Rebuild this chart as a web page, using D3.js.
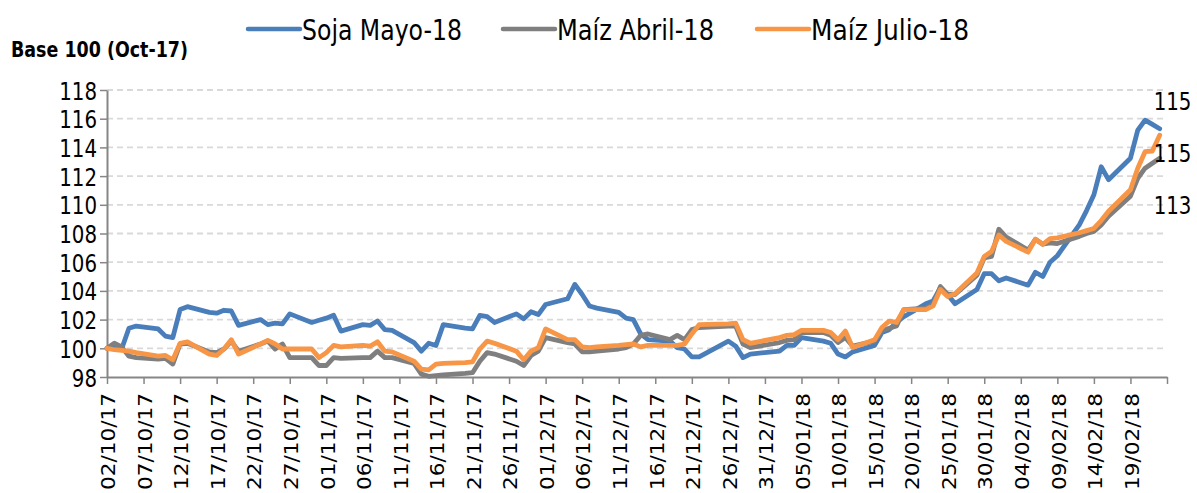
<!DOCTYPE html>
<html>
<head>
<meta charset="utf-8">
<script src="https://cdn.jsdelivr.net/npm/d3@7"></script>
<style>
  body { margin: 0; background: #fff; }
  text { font-family: "DejaVu Sans Condensed", "DejaVu Sans", sans-serif; fill: #000; }
</style>
</head>
<body>
<div id="chart"></div>
<script>
// trading days (dd/mm/yy)
const dates = [
  "02/10/17","03/10/17","04/10/17","05/10/17","06/10/17",
  "09/10/17","10/10/17","11/10/17","12/10/17","13/10/17",
  "16/10/17","17/10/17","18/10/17","19/10/17","20/10/17",
  "23/10/17","24/10/17","25/10/17","26/10/17","27/10/17",
  "30/10/17","31/10/17","01/11/17","02/11/17","03/11/17",
  "06/11/17","07/11/17","08/11/17","09/11/17","10/11/17",
  "13/11/17","14/11/17","15/11/17","16/11/17","17/11/17",
  "20/11/17","21/11/17","22/11/17","23/11/17","24/11/17",
  "27/11/17","28/11/17","29/11/17","30/11/17","01/12/17",
  "04/12/17","05/12/17","06/12/17","07/12/17","08/12/17",
  "11/12/17","12/12/17","13/12/17","14/12/17","15/12/17",
  "18/12/17","19/12/17","20/12/17","21/12/17","22/12/17",
  "26/12/17","27/12/17","28/12/17","29/12/17",
  "02/01/18","03/01/18","04/01/18","05/01/18",
  "08/01/18","09/01/18","10/01/18","11/01/18","12/01/18",
  "15/01/18","16/01/18","17/01/18","18/01/18","19/01/18",
  "22/01/18","23/01/18","24/01/18","25/01/18","26/01/18",
  "29/01/18","30/01/18","31/01/18","01/02/18","02/02/18",
  "05/02/18","06/02/18","07/02/18","08/02/18","09/02/18",
  "12/02/18","13/02/18","14/02/18","15/02/18","16/02/18",
  "19/02/18","20/02/18","21/02/18","22/02/18","23/02/18"
];

const sojaMayo = [
  100.0, 100.0, 99.95, 101.4, 101.55,
  101.35, 100.85, 100.75, 102.7, 102.9,
  102.5, 102.45, 102.65, 102.6, 101.6,
  102.0, 101.65, 101.75, 101.7, 102.4,
  101.8, 101.95, 102.1, 102.3, 101.2,
  101.65, 101.6, 101.9, 101.3, 101.25,
  100.4, 99.8, 100.35, 100.2, 101.65,
  101.4, 101.35, 102.3, 102.2, 101.8,
  102.4, 102.05, 102.55, 102.35, 103.05,
  103.45, 104.45, 103.75, 102.95, 102.8,
  102.5, 102.1, 102.0, 101.0, 100.6,
  100.5, 100.05, 99.95, 99.4, 99.4,
  100.5, 100.15, 99.35, 99.6,
  99.8, 100.2, 100.2, 100.75,
  100.5, 100.35, 99.6, 99.4, 99.75,
  100.2, 101.1, 101.3, 101.8, 102.2,
  103.1, 103.3, 104.2, 103.75, 103.1,
  104.1, 105.2, 105.2, 104.7, 104.9,
  104.4, 105.3, 105.0, 106.0, 106.45,
  108.6, 109.6, 110.7, 112.65, 111.75,
  113.25, 115.2, 115.9, 115.6, 115.3
];

const maizAbril = [
  100.0, 100.35, 100.1, 99.45, 99.35,
  99.25, 99.3, 98.9, 100.3, 100.35,
  99.75, 99.7, 99.95, 100.5, 99.8,
  100.3, 100.5, 99.95, 100.3, 99.35,
  99.35, 98.8, 98.8, 99.35, 99.3,
  99.35, 99.35, 99.8, 99.35, 99.35,
  98.95, 98.2, 98.05, 98.1, 98.15,
  98.25, 98.3, 99.1, 99.7, 99.6,
  99.1, 98.8, 99.5, 99.8, 100.75,
  100.4, 100.3, 99.75, 99.75, 99.8,
  99.95, 100.05, 100.3, 100.9, 101.0,
  100.6, 100.9, 100.6, 101.3, 101.45,
  101.55, 101.55, 100.3, 100.05,
  100.4, 100.55, 100.6, 101.1,
  101.1, 100.9, 100.4, 100.75, 100.15,
  100.5, 101.25, 101.4, 101.55, 102.7,
  102.8, 103.05, 104.3, 103.75, 103.75,
  105.1, 106.3, 106.4, 108.3, 107.75,
  106.85, 107.6, 107.25, 107.35, 107.3,
  107.8, 108.0, 108.15, 108.6, 109.2,
  110.6, 111.85, 112.55, 112.9, 113.25
];

const maizJulio = [
  100.0, 99.9, 99.85, 99.8, 99.7,
  99.45, 99.5, 99.2, 100.35, 100.45,
  99.6, 99.5, 99.95, 100.6, 99.6,
  100.3, 100.55, 100.3, 99.95, 99.95,
  99.95, 99.35, 99.7, 100.2, 100.1,
  100.2, 100.15, 100.45, 99.8, 99.75,
  99.1, 98.55, 98.5, 98.9, 98.95,
  99.0, 99.05, 99.95, 100.5, 100.35,
  99.8, 99.2, 99.8, 100.05, 101.35,
  100.6, 100.6, 100.1, 100.05, 100.1,
  100.2, 100.25, 100.3, 100.1, 100.2,
  100.2, 100.2, 100.3, 101.0, 101.65,
  101.7, 101.75, 100.6, 100.35,
  100.75, 100.9, 100.95, 101.25,
  101.25, 101.1, 100.6, 101.2, 100.05,
  100.6, 101.45, 101.9, 101.8, 102.7,
  102.7, 102.95, 104.1, 103.6, 103.8,
  105.25, 106.4, 106.75, 107.9, 107.45,
  106.7, 107.6, 107.25, 107.65, 107.7,
  108.05, 108.2, 108.35, 108.9, 109.55,
  111.05, 112.55, 113.7, 113.75, 114.85
];

const seriesNames = ["Soja Mayo-18", "Maíz Abril-18", "Maíz Julio-18"];
const yTicks = [98, 100, 102, 104, 106, 108, 110, 112, 114, 116, 118];
const axisStart = "02/10/17";
const axisEnd = "24/02/18";
const titleText = "Base 100 (Oct-17)";

const width = 1197, height = 493;
const colors = ["#4a7ebb", "#7f7f7f", "#f79646"];
const legendX = [248, 503, 757];
const legendTextLen = [160, 157, 158];
const endLabelOffset = [[-6, -19], [-6, 56], [-6, 27]];

const parse = d3.utcParse("%d/%m/%y");
const fmt = d3.utcFormat("%d/%m/%y");

const x = d3.scaleUtc()
  .domain([parse(axisStart), parse(axisEnd)])
  .range([107, 1167]);
const y = d3.scaleLinear()
  .domain([98, 118])
  .range([377, 90]);

const svg = d3.select("#chart").append("svg")
  .attr("width", width)
  .attr("height", height);

// grid
svg.append("g").selectAll("line")
  .data(yTicks.filter(v => v > 98))
  .join("line")
  .attr("x1", x.range()[0]).attr("x2", x.range()[1] - 2)
  .attr("y1", d => y(d)).attr("y2", d => y(d))
  .attr("stroke", "#d9d9d9")
  .attr("stroke-width", 1.8)
  .attr("stroke-dasharray", "6,4");

// x axis, a tick every 5 days
const xTickDates = d3.range(0, 146, 5).map(i => d3.utcDay.offset(parse(axisStart), i));
const xAxis = svg.append("g")
  .attr("transform", `translate(0,${y(98)})`)
  .call(d3.axisBottom(x)
    .tickValues(xTickDates)
    .tickSize(7)
    .tickSizeOuter(0)
    .tickFormat((d, i) => i < xTickDates.length - 1 ? fmt(d) : ""));
xAxis.attr("font-family", null).attr("font-size", null);
xAxis.select(".domain").attr("stroke", "#868686").attr("stroke-width", 2);
xAxis.selectAll(".tick line").attr("stroke", "#868686").attr("stroke-width", 1.5);
xAxis.selectAll(".tick text")
  .attr("y", null).attr("dy", null)
  .attr("text-anchor", "end")
  .attr("dominant-baseline", "central")
  .attr("transform", "translate(1,16) rotate(-90) scale(1,0.82)")
  .style("font-size", "24px");

// y axis
const yAxis = svg.append("g")
  .attr("transform", `translate(${x.range()[0]},0)`)
  .call(d3.axisLeft(y).tickValues(yTicks).tickSize(7).tickSizeOuter(0));
yAxis.attr("font-family", null).attr("font-size", null);
yAxis.select(".domain").attr("stroke", "#868686").attr("stroke-width", 2);
yAxis.selectAll(".tick line").attr("stroke", "#868686").attr("stroke-width", 1.5);
yAxis.selectAll(".tick text")
  .attr("x", null)
  .attr("dy", "0.36em")
  .attr("text-anchor", "end")
  .attr("transform", "translate(-10,0) scale(0.88,1)")
  .style("font-size", "25px");

// series
const series = [sojaMayo, maizAbril, maizJulio].map((vals, i) => ({
  name: seriesNames[i],
  color: colors[i],
  points: vals.map((v, j) => ({ date: parse(dates[j]), v: v }))
}));

const line = d3.line()
  .x(d => x(d.date))
  .y(d => y(d.v));

svg.append("g").selectAll("path")
  .data(series)
  .join("path")
  .attr("d", d => line(d.points))
  .attr("fill", "none")
  .attr("stroke", d => d.color)
  .attr("stroke-width", 4.8)
  .attr("stroke-linejoin", "round")
  .attr("stroke-linecap", "round");

// end labels
svg.append("g").selectAll("text")
  .data(series)
  .join("text")
  .attr("x", (d, i) => x(d.points[d.points.length - 1].date) + endLabelOffset[i][0])
  .attr("y", (d, i) => y(d.points[d.points.length - 1].v) + endLabelOffset[i][1])
  .attr("transform", (d, i) => {
    const lx = x(d.points[d.points.length - 1].date) + endLabelOffset[i][0];
    return `translate(${lx},0) scale(0.88,1) translate(${-lx},0)`;
  })
  .style("font-size", "25px")
  .text(d => d3.format(".0f")(d.points[d.points.length - 1].v));

// title
svg.append("text")
  .attr("x", 11).attr("y", 57)
  .attr("textLength", 177)
  .attr("lengthAdjust", "spacingAndGlyphs")
  .style("font-size", "22px")
  .style("font-weight", "bold")
  .text(titleText);

// legend
const legend = svg.append("g").selectAll("g")
  .data(series)
  .join("g")
  .attr("transform", (d, i) => `translate(${legendX[i]},29)`);
legend.append("line")
  .attr("x1", 0).attr("x2", 52)
  .attr("stroke", d => d.color)
  .attr("stroke-width", 4.5)
  .attr("stroke-linecap", "round");
legend.append("text")
  .attr("x", 54).attr("y", 11)
  .attr("textLength", (d, i) => legendTextLen[i])
  .attr("lengthAdjust", "spacingAndGlyphs")
  .style("font-size", "29px")
  .text(d => d.name);
</script>
</body>
</html>
